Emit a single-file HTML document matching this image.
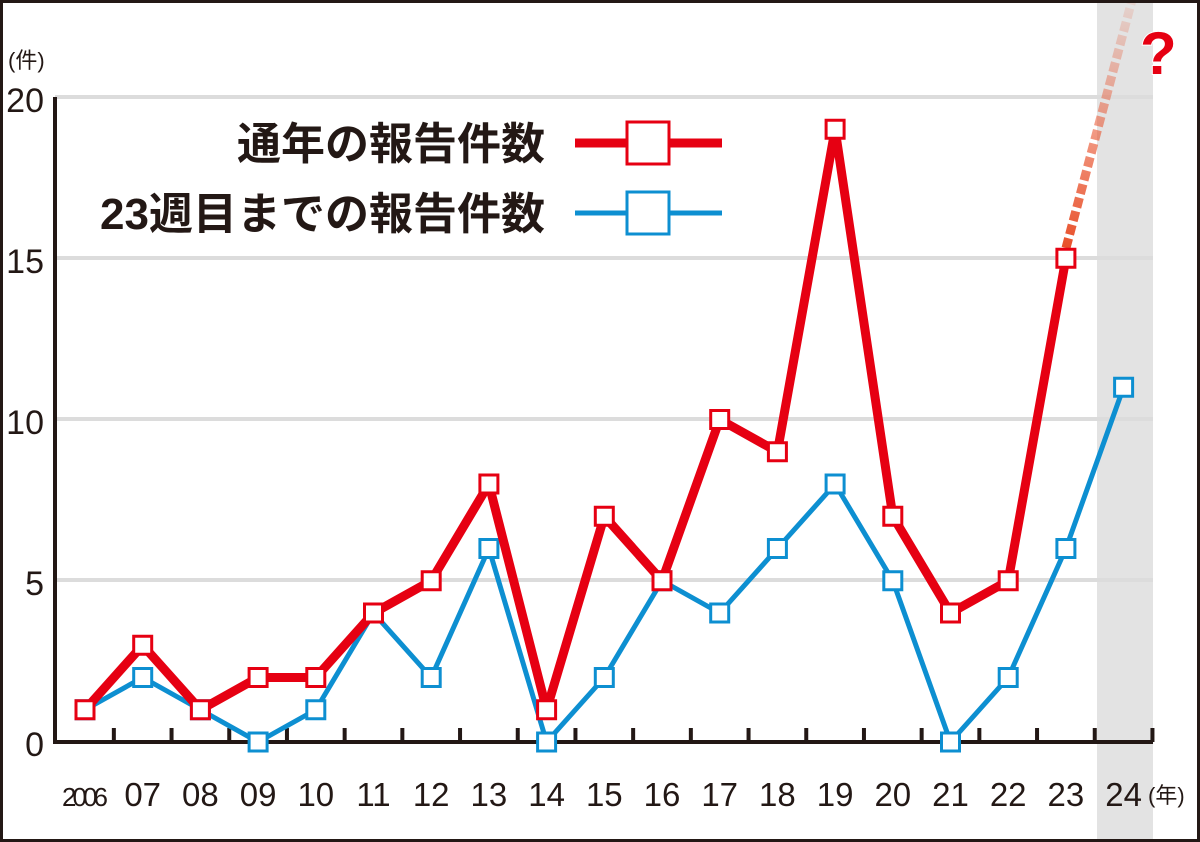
<!DOCTYPE html><html><head><meta charset="utf-8"><style>body{margin:0;background:#fff}svg{display:block}</style></head><body>
<svg width="1200" height="842" viewBox="0 0 1200 842" xmlns="http://www.w3.org/2000/svg" font-family="'Liberation Sans','Noto Sans CJK JP',sans-serif">
<defs><linearGradient id="g" x1="0" y1="1" x2="0" y2="0"><stop offset="0" stop-color="#e8502a"/><stop offset="1" stop-color="#e8502a" stop-opacity="0.1"/></linearGradient></defs>
<rect x="1097" y="0" width="56" height="842" fill="#e3e3e3"/>
<g stroke="#dcdcdc" stroke-width="4"><line x1="55" y1="97" x2="1153" y2="97"/><line x1="55" y1="258" x2="1153" y2="258"/><line x1="55" y1="419" x2="1153" y2="419"/><line x1="55" y1="580" x2="1153" y2="580"/></g>
<g fill="#231815" font-size="34" text-anchor="end"><text x="44" y="112">20</text><text x="44" y="273">15</text><text x="44" y="434">10</text><text x="44" y="595">5</text><text x="44" y="756">0</text></g>
<text x="8" y="68" font-size="22" fill="#231815">(件)</text>
<path d="M55 97V742H1153" fill="none" stroke="#231815" stroke-width="4"/>
<path id="tk" d="" stroke="#231815" stroke-width="4"/>
<line x1="1066" y1="248" x2="1132" y2="0" stroke="url(#g)" stroke-width="9" stroke-dasharray="10 4"/>
<text x="1140" y="74" font-size="60" font-weight="bold" fill="#e60012" stroke="#fff" stroke-width="2" paint-order="stroke">?</text>
<g id="c"></g>
<g font-size="44" font-weight="bold" fill="#231815" text-anchor="end"><text x="545" y="159">通年の報告件数</text><text x="545" y="229">23週目までの報告件数</text></g>
<line x1="575" y1="143" x2="722" y2="143" stroke="#e60012" stroke-width="9"/><rect x="627" y="122" width="42" height="42" fill="#fff" stroke="#e60012" stroke-width="3"/>
<line x1="575" y1="213" x2="722" y2="213" stroke="#0d8fd1" stroke-width="5"/><rect x="627" y="192" width="42" height="42" fill="#fff" stroke="#0d8fd1" stroke-width="3"/>
<rect x="1.5" y="1.5" width="1197" height="839" fill="none" stroke="#231815" stroke-width="3"/>
<script>
var ns="http://www.w3.org/2000/svg",c=document.getElementById('c');
function X(i){return 85+57.7*i}function Y(v){return 742-32.25*v}
var r=[1,3,1,2,2,4,5,8,1,7,5,10,9,19,7,4,5,15],b=[1,2,1,0,1,4,2,6,0,2,5,4,6,8,5,0,2,6,11];
function draw(d,col,w){var p=d.map(function(v,i){return X(i)+','+Y(v)}).join(' ');var l=document.createElementNS(ns,'polyline');l.setAttribute('points',p);l.setAttribute('fill','none');l.setAttribute('stroke',col);l.setAttribute('stroke-width',w);l.setAttribute('stroke-linejoin','round');c.appendChild(l);
d.forEach(function(v,i){var s=document.createElementNS(ns,'rect');s.setAttribute('x',X(i)-9);s.setAttribute('y',Y(v)-9);s.setAttribute('width',18);s.setAttribute('height',18);s.setAttribute('fill','#fff');s.setAttribute('stroke',col);s.setAttribute('stroke-width',3);c.appendChild(s)})}
draw(b,'#0d8fd1',5);draw(r,'#e60012',9);
var d='';for(var i=0;i<19;i++){d+='M'+(X(i)+28.85)+' 742V728'}document.getElementById('tk').setAttribute('d',d);
var lab=['2006','07','08','09','10','11','12','13','14','15','16','17','18','19','20','21','22','23','24'];
lab.forEach(function(t,i){var e=document.createElementNS(ns,'text');e.setAttribute('x',X(i));e.setAttribute('y',806);e.setAttribute('text-anchor','middle');e.setAttribute('font-size',i==0?26:33);e.setAttribute('fill','#231815');if(i==0)e.setAttribute('textLength','46');e.textContent=t;c.appendChild(e)});
var e=document.createElementNS(ns,'text');e.setAttribute('x',1148);e.setAttribute('y',803);e.setAttribute('font-size',22);e.setAttribute('fill','#231815');e.textContent='(年)';c.appendChild(e);
</script>
</svg></body></html>
